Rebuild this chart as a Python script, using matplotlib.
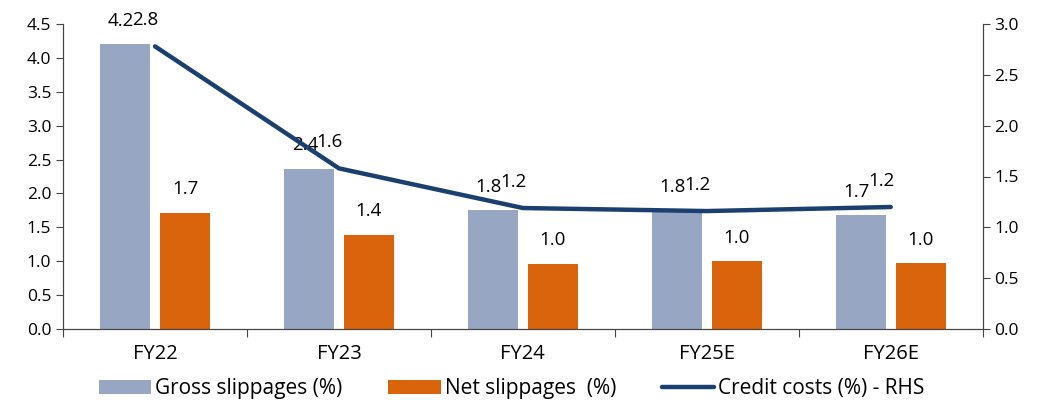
import matplotlib.pyplot as plt
import numpy as np

plt.rcParams['font.family'] = ['Open Sans', 'DejaVu Sans']

# data
years = ['FY22', 'FY23', 'FY24', 'FY25E', 'FY26E']
gross = [4.2, 2.36, 1.75, 1.75, 1.68]
net = [1.71, 1.39, 0.96, 1.0, 0.97]
credit = [2.78, 1.58, 1.19, 1.16, 1.2]
gross_lbl = ['4.2', '2.4', '1.8', '1.8', '1.7']
net_lbl = ['1.7', '1.4', '1.0', '1.0', '1.0']
credit_lbl = ['2.8', '1.6', '1.2', '1.2', '1.2']

c_gross = '#97a6c3'
c_net = '#da640c'
c_line = '#1b3f6e'

fig = plt.figure(figsize=(10.51, 4), dpi=100)
ax = fig.add_axes([0.06, 0.1775, 0.875, 0.7625])
ax2 = ax.twinx()

x = np.arange(len(years))
w = 0.27
off = 0.163
b1 = ax.bar(x - off, gross, w, color=c_gross, label='Gross slippages (%)')
b2 = ax.bar(x + off, net, w, color=c_net, label='Net slippages  (%)')
ln, = ax2.plot(x, credit, color=c_line, lw=3.2, solid_capstyle='round',
               label='Credit costs (%) - RHS')

fs = 13.5
for i in range(len(years)):
    ax.annotate(gross_lbl[i], (x[i] - off, gross[i]), xytext=(-3, 17),
                textcoords='offset points', ha='center', va='center', fontsize=fs)
    ax.annotate(net_lbl[i], (x[i] + off, net[i]), xytext=(0, 17),
                textcoords='offset points', ha='center', va='center', fontsize=fs)
    ax2.annotate(credit_lbl[i], (x[i], credit[i]), xytext=(-7, 19),
                 textcoords='offset points', ha='center', va='center', fontsize=fs)

ax.set_xlim(-0.5, 4.5)
ax.set_ylim(0, 4.5)
ax2.set_ylim(0, 3.0)
ax.set_yticks(np.arange(0, 4.51, 0.5))
ax2.set_yticks(np.arange(0, 3.01, 0.5))
ax.set_yticklabels(['%.1f' % v for v in np.arange(0, 4.51, 0.5)])
ax2.set_yticklabels(['%.1f' % v for v in np.arange(0, 3.01, 0.5)])

ax.set_xticks(np.arange(-0.5, 4.51, 1))
ax.set_xticklabels([])
ax.set_xticks(x, minor=True)
ax.set_xticklabels(years, minor=True)
ax.tick_params(axis='x', which='major', length=6, color='#444444')
ax.tick_params(axis='x', which='minor', length=0, pad=11, labelsize=14.5)
ax.tick_params(axis='y', length=5, labelsize=12.5, color='#444444')
ax2.tick_params(axis='y', length=5, labelsize=12.5, color='#444444')

for a in (ax, ax2):
    a.spines['top'].set_visible(False)
    for s in ('left', 'right', 'bottom'):
        a.spines[s].set_color('#444444')

fig.legend(handles=[b1, b2, ln], loc='lower center', bbox_to_anchor=(0.487, -0.045),
           ncol=3, frameon=False, fontsize=15, handlelength=2.5,
           handletextpad=0.2, columnspacing=2.2)

fig.savefig('out.png', dpi=100)
